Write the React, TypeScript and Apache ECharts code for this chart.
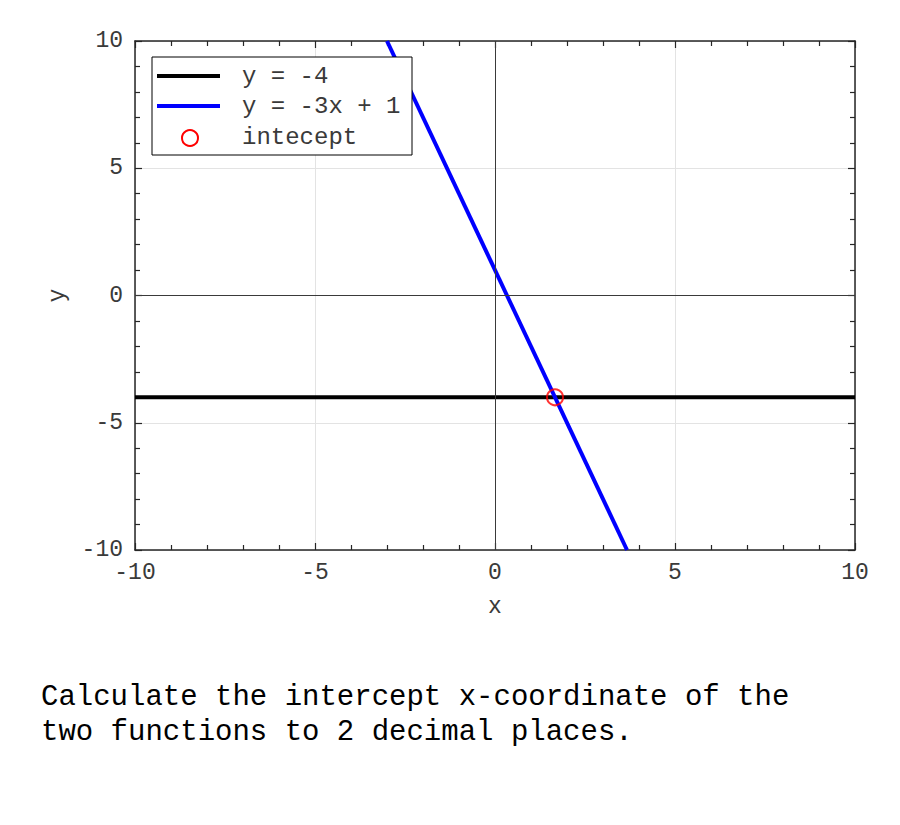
import React, { useEffect, useRef } from "react";
import * as echarts from "echarts";

const xRange = [-10, 10];
const yRange = [-10, 10];
const tickInterval = 5;
const hLineX = [-10, 10];
const hLineY = [-4, -4];
const slopeLineX = [-3, 3.667];
const slopeLineY = [10, -10];
const interceptPoint = [1.667, -4];
const legendLabels = ["y = -4", "y = -3x + 1", "intecept"];
const questionLines = [
  "Calculate the intercept x-coordinate of the",
  "two functions to 2 decimal places.",
];

const FONT = "'Liberation Mono', 'DejaVu Sans Mono', monospace";
const AXIS_COLOR = "#262626";
const LABEL_COLOR = "#3a3a3a";

export default function App() {
  const ref = useRef<HTMLDivElement>(null);
  useEffect(() => {
    if (!ref.current) return;
    const chart = echarts.init(ref.current, null, { renderer: "svg" });
    const baseAxis = (extra: any) => ({
      type: "value",
      min: xRange[0],
      max: xRange[1],
      interval: tickInterval,
      axisLine: { show: true, onZero: false, lineStyle: { color: AXIS_COLOR, width: 1.5 } },
      axisTick: { show: true, inside: true, length: 7, lineStyle: { color: AXIS_COLOR, width: 1.2 } },
      minorTick: { show: true, splitNumber: 5, length: 5, lineStyle: { color: AXIS_COLOR, width: 1.2 } },
      ...extra,
    });
    chart.setOption({
      animation: false,
      backgroundColor: "#ffffff",
      grid: { left: 135, top: 41, width: 720, height: 509, containLabel: false },
      xAxis: [
        baseAxis({
          position: "bottom",
          min: xRange[0],
          max: xRange[1],
          name: "x",
          nameLocation: "middle",
          nameGap: 45,
          nameTextStyle: { fontFamily: FONT, fontSize: 23, color: LABEL_COLOR },
          axisLabel: { fontFamily: FONT, fontSize: 23, color: LABEL_COLOR, margin: 11 },
          splitLine: { show: true, lineStyle: { color: "#e3e3e3", width: 1 } },
        }),
        baseAxis({
          position: "top",
          min: xRange[0],
          max: xRange[1],
          axisLabel: { show: false },
          splitLine: { show: false },
        }),
      ],
      yAxis: [
        baseAxis({
          position: "left",
          min: yRange[0],
          max: yRange[1],
          name: "y",
          nameLocation: "middle",
          nameGap: 66,
          nameTextStyle: { fontFamily: FONT, fontSize: 23, color: LABEL_COLOR },
          axisLabel: { fontFamily: FONT, fontSize: 23, color: LABEL_COLOR, margin: 12 },
          splitLine: { show: true, lineStyle: { color: "#e3e3e3", width: 1 } },
        }),
        baseAxis({
          position: "right",
          min: yRange[0],
          max: yRange[1],
          axisLabel: { show: false },
          splitLine: { show: false },
        }),
      ],
      series: [
        {
          type: "line",
          name: "zero-lines",
          data: [],
          z: 1,
          silent: true,
          markLine: {
            silent: true,
            symbol: "none",
            label: { show: false },
            lineStyle: { color: "#3a3a3a", width: 1, type: "solid" },
            data: [{ xAxis: 0 }, { yAxis: 0 }],
          },
        },
        {
          type: "line",
          name: legendLabels[0],
          data: hLineX.map((x, i) => [x, hLineY[i]]),
          symbol: "none",
          lineStyle: { color: "#000000", width: 4 },
          z: 3,
        },
        {
          type: "line",
          name: legendLabels[1],
          data: slopeLineX.map((x, i) => [x, slopeLineY[i]]),
          symbol: "none",
          lineStyle: { color: "#0000ff", width: 4 },
          z: 4,
        },
        {
          type: "scatter",
          name: legendLabels[2],
          data: [interceptPoint],
          symbol: "circle",
          symbolSize: 16,
          itemStyle: { color: "rgba(0,0,0,0)", borderColor: "#ff0000", borderWidth: 2 },
          z: 5,
        },
      ],
      graphic: [
        {
          type: "rect",
          shape: { x: 152, y: 57, width: 260, height: 98 },
          style: { fill: "#ffffff", stroke: "#000000", lineWidth: 1 },
          z: 10,
        },
        {
          type: "line",
          shape: { x1: 157, y1: 76, x2: 220, y2: 76 },
          style: { stroke: "#000000", lineWidth: 4 },
          z: 11,
        },
        {
          type: "line",
          shape: { x1: 157, y1: 106, x2: 220, y2: 106 },
          style: { stroke: "#0000ff", lineWidth: 4 },
          z: 11,
        },
        {
          type: "circle",
          shape: { cx: 190, cy: 138, r: 8 },
          style: { fill: "none", stroke: "#ff0000", lineWidth: 2 },
          z: 11,
        },
        ...legendLabels.map((t, i) => ({
          type: "text",
          x: 242,
          y: [76, 106, 137][i],
          style: {
            text: t,
            font: `24px ${FONT}`,
            fill: LABEL_COLOR,
            verticalAlign: "middle",
          },
          z: 11,
        })),
        ...questionLines.map((t, i) => ({
          type: "text",
          x: 41,
          y: 697 + i * 35,
          style: {
            text: t,
            font: `29px ${FONT}`,
            fill: "#000000",
            verticalAlign: "middle",
          },
        })),
      ],
    });
    return () => chart.dispose();
  }, []);
  return (
    <div
      ref={ref}
      style={{ position: "fixed", left: 0, top: 0, width: 900, height: 825 }}
    />
  );
}
